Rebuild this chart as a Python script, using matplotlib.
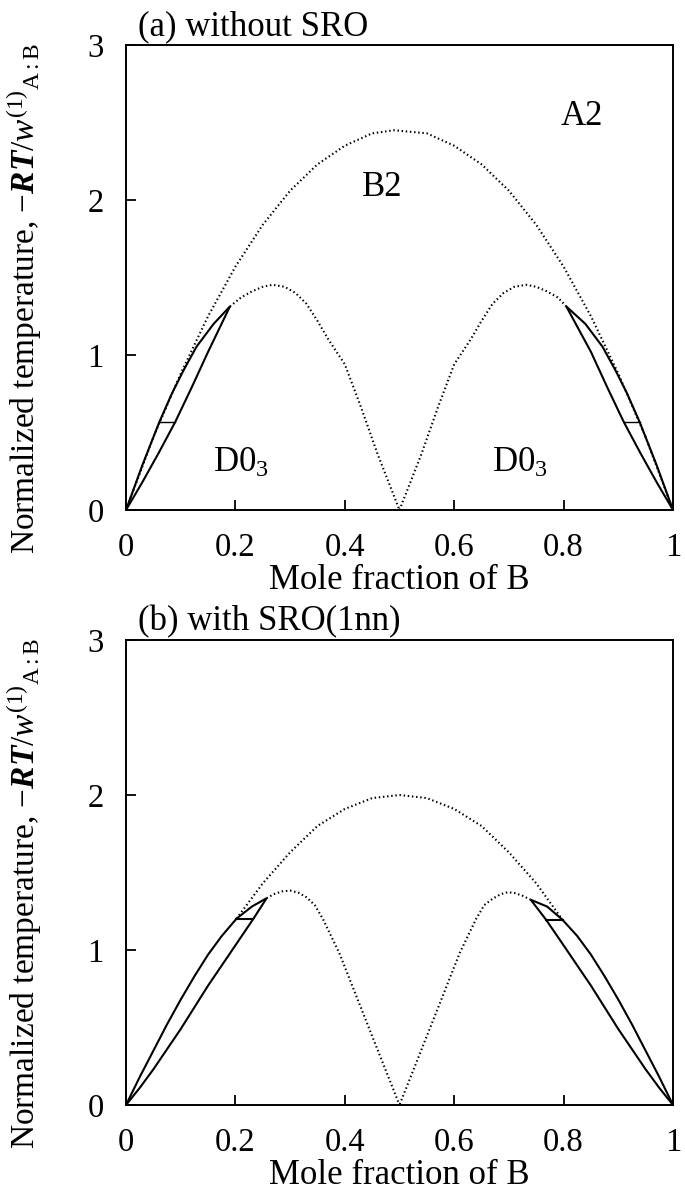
import matplotlib
matplotlib.use("Agg")
import matplotlib.pyplot as plt

plt.rcParams['font.family'] = ['Liberation Serif', 'DejaVu Serif']
plt.rcParams['mathtext.fontset'] = 'custom'
plt.rcParams['mathtext.rm'] = 'Liberation Serif'
plt.rcParams['mathtext.it'] = 'Liberation Serif:italic'
plt.rcParams['mathtext.bf'] = 'Liberation Serif:bold'
try:
    plt.rcParams['mathtext.bfit'] = 'Liberation Serif:italic:bold'
    BFIT = True
except KeyError:
    BFIT = False

# ---------------- data: panel (a) without SRO ----------------
a_b2_x = [0, 0.05, 0.10, 0.15, 0.20, 0.25, 0.30, 0.35, 0.40, 0.45, 0.49,
          0.55, 0.60, 0.65, 0.70, 0.75, 0.80, 0.85, 0.90, 0.95, 1.0]
a_b2_y = [0, 0.47, 0.88, 1.25, 1.57, 1.84, 2.06, 2.23, 2.35, 2.43, 2.45,
          2.43, 2.35, 2.23, 2.06, 1.84, 1.57, 1.25, 0.88, 0.47, 0]

a_d03L_x = [0.19, 0.21, 0.23, 0.25, 0.268, 0.29, 0.31, 0.33, 0.35, 0.37, 0.40, 0.43, 0.46, 0.50]
a_d03L_y = [1.313, 1.37, 1.41, 1.44, 1.453, 1.44, 1.40, 1.33, 1.22, 1.10, 0.94, 0.66, 0.36, 0.0]
a_d03R_x = [0.805, 0.79, 0.77, 0.75, 0.732, 0.71, 0.69, 0.67, 0.65, 0.63, 0.60, 0.57, 0.54, 0.50]
a_d03R_y = [1.313, 1.37, 1.41, 1.44, 1.453, 1.44, 1.40, 1.33, 1.22, 1.10, 0.94, 0.66, 0.36, 0.0]

a_upL_x = [0, 0.03, 0.061, 0.084, 0.105, 0.129, 0.16, 0.19]
a_upL_y = [0, 0.29, 0.568, 0.752, 0.90, 1.054, 1.20, 1.313]
a_loL_x = [0, 0.03, 0.06, 0.090, 0.12, 0.15, 0.19]
a_loL_y = [0, 0.18, 0.37, 0.568, 0.79, 1.02, 1.313]
a_upR_x = [1, 0.97, 0.939, 0.916, 0.895, 0.871, 0.84, 0.805]
a_upR_y = [0, 0.29, 0.568, 0.752, 0.90, 1.054, 1.20, 1.313]
a_loR_x = [1, 0.97, 0.94, 0.910, 0.88, 0.85, 0.805]
a_loR_y = [0, 0.18, 0.37, 0.568, 0.79, 1.02, 1.313]
a_tieL_x = [0.061, 0.090]
a_tieR_x = [0.910, 0.939]
a_tie_y = [0.568, 0.568]

# ---------------- data: panel (b) with SRO(1nn) ----------------
b_b2_x = [0.202, 0.25, 0.30, 0.35, 0.40, 0.45, 0.50, 0.55, 0.60, 0.65, 0.70, 0.75, 0.798]
b_b2_y = [1.202, 1.43, 1.63, 1.80, 1.91, 1.98, 2.00, 1.98, 1.91, 1.80, 1.63, 1.43, 1.195]

b_d03L_x = [0.257, 0.27, 0.285, 0.30, 0.315, 0.33, 0.345, 0.36, 0.39, 0.4376, 0.48, 0.50]
b_d03L_y = [1.334, 1.36, 1.378, 1.383, 1.37, 1.34, 1.29, 1.20, 0.98, 0.555, 0.178, 0.0]
b_d03R_x = [0.74, 0.725, 0.71, 0.698, 0.685, 0.67, 0.655, 0.64, 0.61, 0.5624, 0.52, 0.50]
b_d03R_y = [1.324, 1.35, 1.368, 1.373, 1.36, 1.33, 1.29, 1.20, 0.98, 0.555, 0.178, 0.0]

b_upL_x = [0, 0.025, 0.05, 0.075, 0.10, 0.125, 0.15, 0.175, 0.202, 0.23, 0.257]
b_upL_y = [0, 0.18, 0.35, 0.52, 0.68, 0.83, 0.97, 1.09, 1.202, 1.28, 1.334]
b_loL_x = [0, 0.025, 0.05, 0.075, 0.10, 0.125, 0.15, 0.175, 0.20, 0.233, 0.257]
b_loL_y = [0, 0.11, 0.23, 0.36, 0.49, 0.63, 0.77, 0.90, 1.03, 1.202, 1.334]
b_upR_x = [1, 0.975, 0.95, 0.925, 0.90, 0.875, 0.85, 0.825, 0.798, 0.77, 0.74]
b_upR_y = [0, 0.18, 0.35, 0.52, 0.68, 0.83, 0.97, 1.09, 1.195, 1.28, 1.324]
b_loR_x = [1, 0.975, 0.95, 0.925, 0.90, 0.875, 0.85, 0.825, 0.80, 0.768, 0.74]
b_loR_y = [0, 0.11, 0.23, 0.36, 0.49, 0.63, 0.77, 0.90, 1.03, 1.195, 1.324]
b_tieL_x = [0.202, 0.233]
b_tieL_y = [1.202, 1.202]
b_tieR_x = [0.768, 0.798]
b_tieR_y = [1.195, 1.195]

x_ticks = [0, 0.2, 0.4, 0.6, 0.8, 1]
x_ticklabels = ['0', '0.2', '0.4', '0.6', '0.8', '1']
y_ticks = [0, 1, 2, 3]
y_ticklabels = ['0', '1', '2', '3']

titles = ['(a) without SRO', '(b) with SRO(1nn)']
xlabel = 'Mole fraction of B'
if BFIT:
    ylabel = r'Normalized temperature, $-\mathbfit{RT}/\mathit{w}^{(1)}{}_{\mathrm{A:B}}$'
else:
    ylabel = r'Normalized temperature, $-\mathit{RT}/\mathit{w}^{(1)}{}_{\mathrm{A:B}}$'

# ---------------- figure ----------------
W, H = 685, 1193
fig = plt.figure(figsize=(W / 100, H / 100), dpi=100)
left = 126 / W
width = (673 - 126) / W
ax_a = fig.add_axes([left, 1 - 510 / H, width, 465 / H])
ax_b = fig.add_axes([left, 1 - 1105 / H, width, 465 / H])

FS = 25
TFS = 23.5
dot = dict(color='black', lw=1.5, linestyle=(0, (0.7, 1.3)))
sol = dict(color='black', lw=1.5, solid_capstyle='butt', solid_joinstyle='round')

def style(ax, title):
    ax.set_xlim(0, 1)
    ax.set_ylim(0, 3)
    ax.set_xticks(x_ticks)
    ax.set_xticklabels(x_ticklabels)
    ax.set_yticks(y_ticks)
    ax.set_yticklabels(y_ticklabels)
    ax.tick_params(direction='in', length=7, width=1.3, labelsize=TFS, pad=16,
                   top=False, right=False)
    for s in ax.spines.values():
        s.set_linewidth(1.4)
    ax.set_xlabel(xlabel, fontsize=FS)
    ax.xaxis.set_label_coords(0.5, -0.116, transform=ax.transAxes)
    ax.xaxis.label.set_va('top')
    ax.set_ylabel(ylabel, fontsize=24)
    ax.yaxis.set_label_coords(-0.150, 0.455)
    ax.text(0.022, 1.0215, title, transform=ax.transAxes, fontsize=FS,
            ha='left', va='baseline')

# panel a
ax = ax_a
ax.plot(a_b2_x, a_b2_y, **dot)
ax.plot(a_d03L_x, a_d03L_y, **dot)
ax.plot(a_d03R_x, a_d03R_y, **dot)
ax.plot(a_upL_x, a_upL_y, **sol)
ax.plot(a_loL_x, a_loL_y, **sol)
ax.plot(a_upR_x, a_upR_y, **sol)
ax.plot(a_loR_x, a_loR_y, **sol)
ax.plot(a_tieL_x, a_tie_y, color='black', lw=1.0)
ax.plot(a_tieR_x, a_tie_y, color='black', lw=1.0)
ax.text(0.833, 2.54, 'A2', fontsize=FS, ha='center', va='center')
ax.text(0.469, 2.08, 'B2', fontsize=FS, ha='center', va='center')
ax.text(0.21, 0.30, r'D0$_3$', fontsize=FS, ha='center', va='center')
ax.text(0.72, 0.30, r'D0$_3$', fontsize=FS, ha='center', va='center')
style(ax, titles[0])

# panel b
ax = ax_b
ax.plot(b_b2_x, b_b2_y, **dot)
ax.plot(b_d03L_x, b_d03L_y, **dot)
ax.plot(b_d03R_x, b_d03R_y, **dot)
ax.plot(b_upL_x, b_upL_y, **sol)
ax.plot(b_loL_x, b_loL_y, **sol)
ax.plot(b_upR_x, b_upR_y, **sol)
ax.plot(b_loR_x, b_loR_y, **sol)
ax.plot(b_tieL_x, b_tieL_y, color='black', lw=1.5)
ax.plot(b_tieR_x, b_tieR_y, color='black', lw=1.5)
style(ax, titles[1])

fig.savefig('out.png', dpi=100)
